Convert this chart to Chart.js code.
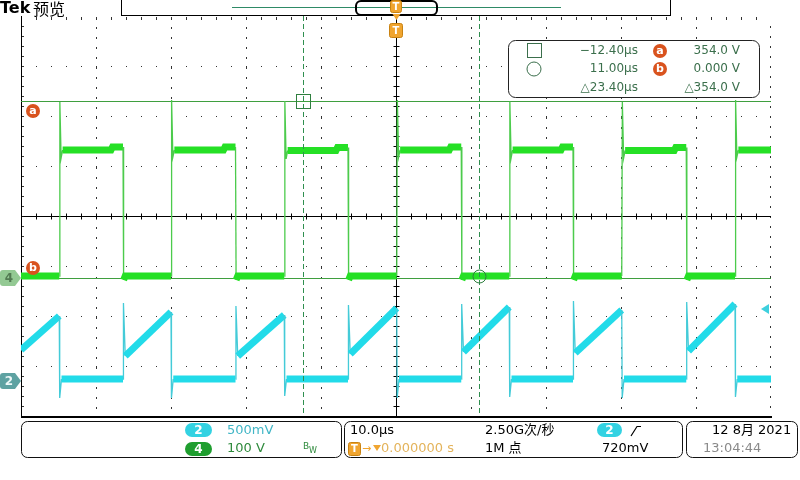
<!DOCTYPE html>
<html>
<head>
<meta charset="utf-8">
<script src="https://cdn.jsdelivr.net/npm/chart.js@4.4.0/dist/chart.umd.min.js"></script>
<style>
  html, body { margin: 0; padding: 0; background: #fff; }
  canvas { display: block; }
</style>
</head>
<body>
<canvas id="scope" width="800" height="480"></canvas>
<script>
// ======================================
// Data
// ======================================
const timeRangeUs = [-50, 50];            // 10.0 µs/div, 10 divisions
const gridDivX = [-40, -30, -20, -10, 10, 20, 30, 40];
const gridDivY = [-3, -2, -1, 1, 2, 3];

// switching edges of CH4 (µs)
const riseUs = [-44.9, -30.0, -14.9, 0.1, 15.1, 30.1, 45.2];
const fallUs = [-36.4, -21.4, -6.4, 8.7, 23.6, 38.7];

// CH4, 100 V/div
const ch4SpikeV = [352, 356, 354, 356, 353, 352, 356];
const ch4DipV   = [240, 242, 238, 242, 240, 240, 242];
const ch4HighV  = [256, 256, 255, 256, 256, 255, 256];
const ch4BumpV  = [262, 262, 261, 262, 262, 261];
const ch4LowV   = 4;
const ch4UnderV = -4;

// CH2, 500 mV/div
const ch2StartV = 0.31;
const ch2TopV   = [0.65, 0.69, 0.66, 0.73, 0.74, 0.71, 0.77];
const ch2DipV   = [-0.17, -0.17, -0.15, -0.17, -0.16, -0.17, -0.16];
const ch2PeakV  = [0.78, 0.75, 0.76, 0.77, 0.80, 0.79];
const ch2BaseV  = [0.25, 0.25, 0.27, 0.29, 0.28, 0.30];
const ch2LowV   = 0.02;

// cursors / trigger
const cursorUs = [-12.40, 11.00];
const cursorV  = [354.0, 0.000];
const trigLevelV = 0.72;

// vertical scale setup (V per div, ground offset in div)
const ch4PerDiv = 100, ch4Offset = -1.24;
const ch2PerDiv = 0.5, ch2Offset = -3.30;

// ======================================
// Build traces from the edge lists
// ======================================
function buildCh4() {
  const pts = [{ x: timeRangeUs[0], y: ch4LowV }];
  riseUs.forEach((r, i) => {
    pts.push({ x: r, y: ch4LowV }, { x: r + 0.08, y: ch4SpikeV[i] },
             { x: r + 0.25, y: ch4DipV[i] }, { x: r + 0.45, y: ch4HighV[i] });
    if (i < fallUs.length) {
      const f = fallUs[i];
      pts.push({ x: f - 1.6, y: ch4HighV[i] }, { x: f - 1.4, y: ch4BumpV[i] },
               { x: f, y: ch4BumpV[i] }, { x: f + 0.08, y: ch4UnderV }, { x: f + 0.3, y: ch4LowV });
    } else {
      pts.push({ x: timeRangeUs[1], y: ch4HighV[i] });
    }
  });
  return pts;
}

function buildCh2() {
  const pts = [{ x: timeRangeUs[0], y: ch2StartV }];
  riseUs.forEach((r, i) => {
    pts.push({ x: r, y: ch2TopV[i] }, { x: r + 0.06, y: ch2DipV[i] }, { x: r + 0.3, y: ch2LowV });
    if (i < fallUs.length) {
      const f = fallUs[i];
      pts.push({ x: f, y: ch2LowV }, { x: f + 0.06, y: ch2PeakV[i] }, { x: f + 0.3, y: ch2BaseV[i] });
    } else {
      pts.push({ x: timeRangeUs[1], y: ch2LowV });
    }
  });
  return pts;
}

// thin for steep edges, thick (noisy band) for plateaus and ramps
const edgeOrBand = (thin, thick) => c => {
  const dx = Math.abs(c.p1.x - c.p0.x), dy = Math.abs(c.p1.y - c.p0.y);
  return dy > 3 * dx ? thin : thick;
};

// ======================================
// Drawing helpers
// ======================================
const FONT = '"DejaVu Sans", "Noto Sans CJK SC", sans-serif';
const ORANGE = '#f0a530';
const CURSOR_TXT = '#3b6f4c';

function rrect(ctx, x, y, w, h, r) {
  ctx.beginPath();
  ctx.moveTo(x + r, y);
  ctx.arcTo(x + w, y, x + w, y + h, r);
  ctx.arcTo(x + w, y + h, x, y + h, r);
  ctx.arcTo(x, y + h, x, y, r);
  ctx.arcTo(x, y, x + w, y, r);
  ctx.closePath();
}

function text(ctx, s, x, y, color, size, opts = {}) {
  ctx.fillStyle = color;
  ctx.font = (opts.bold ? 'bold ' : '') + size + 'px ' + FONT;
  ctx.textAlign = opts.align || 'left';
  ctx.textBaseline = 'middle';
  ctx.fillText(s, x, y);
}

function pill(ctx, x, y, w, h, fill, label) {
  rrect(ctx, x, y, w, h, h / 2);
  ctx.fillStyle = fill;
  ctx.fill();
  text(ctx, label, x + w / 2, y + h / 2 + 0.5, '#fff', 12, { bold: true, align: 'center' });
}

function badge(ctx, cx, cy, letter) {
  ctx.beginPath();
  ctx.arc(cx, cy, 7, 0, Math.PI * 2);
  ctx.fillStyle = '#d9531e';
  ctx.fill();
  text(ctx, letter, cx, cy, '#fff', 11, { bold: true, align: 'center' });
}

function tag(ctx, cy, fill, label, color) {
  ctx.beginPath();
  ctx.moveTo(3, cy - 8);
  ctx.lineTo(15, cy - 8);
  ctx.lineTo(21, cy);
  ctx.lineTo(15, cy + 8);
  ctx.lineTo(3, cy + 8);
  ctx.arcTo(0, cy + 8, 0, cy, 3);
  ctx.arcTo(0, cy - 8, 3, cy - 8, 3);
  ctx.closePath();
  ctx.fillStyle = fill;
  ctx.fill();
  text(ctx, label, 9, cy + 0.5, color, 12, { bold: true, align: 'center' });
}

function tBox(ctx, x, y, w, h) {
  rrect(ctx, x, y, w, h, 2);
  ctx.fillStyle = ORANGE;
  ctx.fill();
  ctx.strokeStyle = '#c98312';
  ctx.lineWidth = 1;
  ctx.stroke();
  text(ctx, 'T', x + w / 2, y + h / 2 + 0.5, '#fff', 10, { bold: true, align: 'center' });
}

// ======================================
// Scope graticule + screen furniture plugin
// ======================================
const scopePlugin = {
  id: 'scope',
  beforeDatasetsDraw(chart) {
    const { ctx, chartArea: a, scales } = chart;
    const x = scales.x, y = scales.y, y4 = scales.y4;
    ctx.save();
    ctx.fillStyle = '#333';
    // dotted divisions
    gridDivX.forEach(v => {
      const px = Math.round(x.getPixelForValue(v));
      for (let yy = a.top + 1; yy <= a.bottom; yy += 10) ctx.fillRect(px, yy, 1, 2);
    });
    gridDivY.forEach(v => {
      const py = Math.round(y.getPixelForValue(v));
      for (let xx = a.left + 15; xx < a.right; xx += 15) ctx.fillRect(xx, py, 1, 1);
    });
    // top / right edge ticks
    for (let xx = a.left + 15; xx < a.right; xx += 15) ctx.fillRect(xx, a.top + 1, 1, 3);
    for (let yy = a.top + 10; yy < a.bottom; yy += 10) ctx.fillRect(a.right - 1, yy, 1, 2);
    for (let yy = a.top + 10; yy < a.bottom; yy += 10) ctx.fillRect(a.left + 1, yy, 2, 1);

    // centre cross with minor ticks
    const cx = Math.round(x.getPixelForValue(0)) + 0.5;
    const cy = Math.round(y.getPixelForValue(0)) + 0.5;
    ctx.strokeStyle = '#000';
    ctx.lineWidth = 1;
    ctx.beginPath();
    ctx.moveTo(a.left, cy); ctx.lineTo(a.right, cy);
    ctx.moveTo(cx, a.top); ctx.lineTo(cx, a.bottom);
    for (let xx = a.left + 15; xx < a.right; xx += 15) {
      ctx.moveTo(Math.round(xx) + 0.5, cy - 3); ctx.lineTo(Math.round(xx) + 0.5, cy + 3);
    }
    for (let yy = a.top + 10; yy < a.bottom; yy += 10) {
      ctx.moveTo(cx - 3, Math.round(yy) + 0.5); ctx.lineTo(cx + 3, Math.round(yy) + 0.5);
    }
    ctx.stroke();

    // frame: solid left and bottom
    ctx.beginPath();
    ctx.moveTo(a.left + 0.5, a.top); ctx.lineTo(a.left + 0.5, a.bottom);
    ctx.stroke();
    ctx.fillStyle = '#000';
    ctx.fillRect(a.left, a.bottom, a.right - a.left + 1, 2);

    // horizontal cursors a / b
    ctx.strokeStyle = '#3f9f3f';
    ctx.beginPath();
    cursorV.forEach(v => {
      const py = Math.round(y4.getPixelForValue(v)) + 0.5;
      ctx.moveTo(a.left, py); ctx.lineTo(a.right, py);
    });
    ctx.stroke();
    ctx.restore();
  },

  afterDatasetsDraw(chart) {
    const { ctx, chartArea: a, scales } = chart;
    const x = scales.x, y4 = scales.y4, y2 = scales.y2;
    ctx.save();

    // vertical cursors (dashed)
    ctx.strokeStyle = '#2f8f4f';
    ctx.lineWidth = 1;
    ctx.setLineDash([5, 3]);
    ctx.beginPath();
    cursorUs.forEach(t => {
      const px = Math.round(x.getPixelForValue(t)) + 0.5;
      ctx.moveTo(px, a.top); ctx.lineTo(px, a.bottom);
    });
    ctx.stroke();
    ctx.setLineDash([]);

    // cursor intersection markers
    const sx = Math.round(x.getPixelForValue(cursorUs[0])) + 0.5;
    const sy = Math.round(y4.getPixelForValue(cursorV[0])) + 0.5;
    ctx.strokeStyle = '#2f7f3f';
    ctx.strokeRect(sx - 7, sy - 7, 14, 14);
    const ox = Math.round(x.getPixelForValue(cursorUs[1])) + 0.5;
    const oy = Math.round(y4.getPixelForValue(cursorV[1])) - 1.5;
    ctx.beginPath();
    ctx.arc(ox, oy, 6.5, 0, Math.PI * 2);
    ctx.stroke();

    // left markers
    badge(ctx, 33, y4.getPixelForValue(cursorV[0]) + 10, 'a');
    badge(ctx, 33, y4.getPixelForValue(cursorV[1]) - 10, 'b');
    tag(ctx, y4.getPixelForValue(0), '#93c993', '4', '#527a52');
    tag(ctx, y2.getPixelForValue(0), '#5ea2a2', '2', '#eef8f8');

    // trigger level arrow (right edge)
    const ty = y2.getPixelForValue(trigLevelV);
    ctx.beginPath();
    ctx.moveTo(761, ty); ctx.lineTo(769, ty - 5); ctx.lineTo(769, ty + 5);
    ctx.closePath();
    ctx.fillStyle = '#3fd0de';
    ctx.fill();

    // ---- top bar ----
    text(ctx, 'Tek', 0, 9, '#000', 16, { bold: true });
    ctx.font = '16px "Noto Sans CJK SC"';
    ctx.fillStyle = '#000';
    ctx.textBaseline = 'middle';
    ctx.fillText('预览', 33, 9);

    ctx.fillStyle = '#fff';
    ctx.fillRect(121, 0, 549, 15);
    ctx.strokeStyle = '#000';
    ctx.lineWidth = 1;
    ctx.strokeRect(121.5, -0.5, 549, 16);
    ctx.strokeStyle = '#2e8a66';
    ctx.beginPath();
    ctx.moveTo(232, 7.5); ctx.lineTo(561, 7.5);
    ctx.stroke();
    ctx.strokeStyle = '#000';
    ctx.lineWidth = 2;
    rrect(ctx, 356, 1, 81, 14, 5);
    ctx.stroke();

    // trigger position markers
    const tx = Math.round(x.getPixelForValue(0));
    tBox(ctx, tx - 5.5, 0.5, 11, 12);
    ctx.beginPath();
    ctx.moveTo(tx - 3.5, 14); ctx.lineTo(tx + 4.5, 14); ctx.lineTo(tx + 0.5, 20);
    ctx.closePath();
    ctx.fillStyle = ORANGE;
    ctx.fill();
    tBox(ctx, tx - 6.5, 23.5, 13, 14);

    // ---- cursor readout ----
    rrect(ctx, 508.5, 40.5, 251, 57, 7);
    ctx.fillStyle = '#fff';
    ctx.fill();
    ctx.strokeStyle = '#222';
    ctx.lineWidth = 1;
    ctx.stroke();
    ctx.strokeStyle = CURSOR_TXT;
    ctx.strokeRect(527.5, 43.5, 14, 14);
    ctx.beginPath();
    ctx.arc(534, 69, 7, 0, Math.PI * 2);
    ctx.stroke();
    const dt = cursorUs[1] - cursorUs[0], dv = Math.abs(cursorV[1] - cursorV[0]);
    text(ctx, '\u2212' + Math.abs(cursorUs[0]).toFixed(2) + 'µs', 638, 51, CURSOR_TXT, 12, { align: 'right' });
    text(ctx, cursorUs[1].toFixed(2) + 'µs', 638, 69, CURSOR_TXT, 12, { align: 'right' });
    text(ctx, '\u25B3' + dt.toFixed(2) + 'µs', 638, 88, CURSOR_TXT, 12, { align: 'right' });
    badge(ctx, 660, 51, 'a');
    badge(ctx, 660, 69, 'b');
    text(ctx, cursorV[0].toFixed(1) + ' V', 740, 51, CURSOR_TXT, 12, { align: 'right' });
    text(ctx, cursorV[1].toFixed(3) + ' V', 740, 69, CURSOR_TXT, 12, { align: 'right' });
    text(ctx, '\u25B3' + dv.toFixed(1) + ' V', 740, 88, CURSOR_TXT, 12, { align: 'right' });

    // ---- bottom status bar ----
    ctx.strokeStyle = '#111';
    ctx.lineWidth = 1;
    rrect(ctx, 21.5, 421.5, 320, 36, 6); ctx.stroke();
    rrect(ctx, 344.5, 421.5, 338, 36, 6); ctx.stroke();
    rrect(ctx, 686.5, 421.5, 111, 36, 6); ctx.stroke();

    pill(ctx, 185, 423, 27, 14, '#33d2e2', '2');
    text(ctx, (ch2PerDiv * 1000) + 'mV', 227, 431, '#42b6c6', 13);
    pill(ctx, 185, 442, 27, 14, '#1f9e2f', '4');
    text(ctx, ch4PerDiv + ' V', 227, 449, '#2e8a3c', 13);
    text(ctx, 'B', 303, 447, '#2e8a3c', 9);
    text(ctx, 'W', 309, 451, '#2e8a3c', 8);

    text(ctx, '10.0µs', 350, 431, '#000', 13);
    tBox(ctx, 348.5, 442.5, 12, 13);
    text(ctx, '\u2192', 362, 449, ORANGE, 11);
    ctx.beginPath();
    ctx.moveTo(373, 445); ctx.lineTo(381, 445); ctx.lineTo(377, 451);
    ctx.closePath();
    ctx.fillStyle = ORANGE;
    ctx.fill();
    text(ctx, '0.000000 s', 381, 449, '#e4b45c', 13);
    text(ctx, '2.50G次/秒', 485, 431, '#000', 13);
    text(ctx, '1M 点', 485, 449, '#000', 13);
    pill(ctx, 597, 423, 25, 14, '#33d2e2', '2');
    ctx.strokeStyle = '#000';
    ctx.lineWidth = 1.2;
    ctx.beginPath();
    ctx.moveTo(631, 436); ctx.lineTo(637, 426.5); ctx.lineTo(641, 426.5);
    ctx.stroke();
    text(ctx, (trigLevelV * 1000) + 'mV', 602, 449, '#000', 13);

    text(ctx, '12 8月 2021', 712, 431, '#000', 13);
    text(ctx, '13:04:44', 703, 449, '#8a8a8a', 13);

    ctx.restore();
  }
};

// ======================================
// Chart
// ======================================
new Chart(document.getElementById('scope').getContext('2d'), {
  type: 'line',
  data: {
    datasets: [
      {
        label: 'CH4',
        data: buildCh4(),
        yAxisID: 'y4',
        borderColor: '#44c844',
        borderWidth: 1.3,
        segment: {
          borderWidth: edgeOrBand(1.3, 7),
          borderColor: edgeOrBand('#4ccb4c', '#25e025'),
        },
      },
      {
        label: 'CH2',
        data: buildCh2(),
        yAxisID: 'y2',
        borderColor: '#3ccddc',
        borderWidth: 1.3,
        segment: {
          borderWidth: edgeOrBand(1.3, 7),
          borderColor: edgeOrBand('#44cbd8', '#22dbe9'),
        },
      },
    ]
  },
  options: {
    responsive: false,
    animation: false,
    layout: { padding: { left: 21, top: 16, right: 29, bottom: 64 } },
    elements: {
      point: { radius: 0, hoverRadius: 0 },
      line: { tension: 0, borderCapStyle: 'butt', borderJoinStyle: 'miter' },
    },
    plugins: { legend: { display: false }, tooltip: { enabled: false } },
    scales: {
      x: { type: 'linear', min: timeRangeUs[0], max: timeRangeUs[1], display: false },
      y: { min: -4, max: 4, display: false },
      y4: { min: (-4 - ch4Offset) * ch4PerDiv, max: (4 - ch4Offset) * ch4PerDiv, display: false },
      y2: { min: (-4 - ch2Offset) * ch2PerDiv, max: (4 - ch2Offset) * ch2PerDiv, display: false },
    }
  },
  plugins: [scopePlugin]
});
</script>
</body>
</html>
